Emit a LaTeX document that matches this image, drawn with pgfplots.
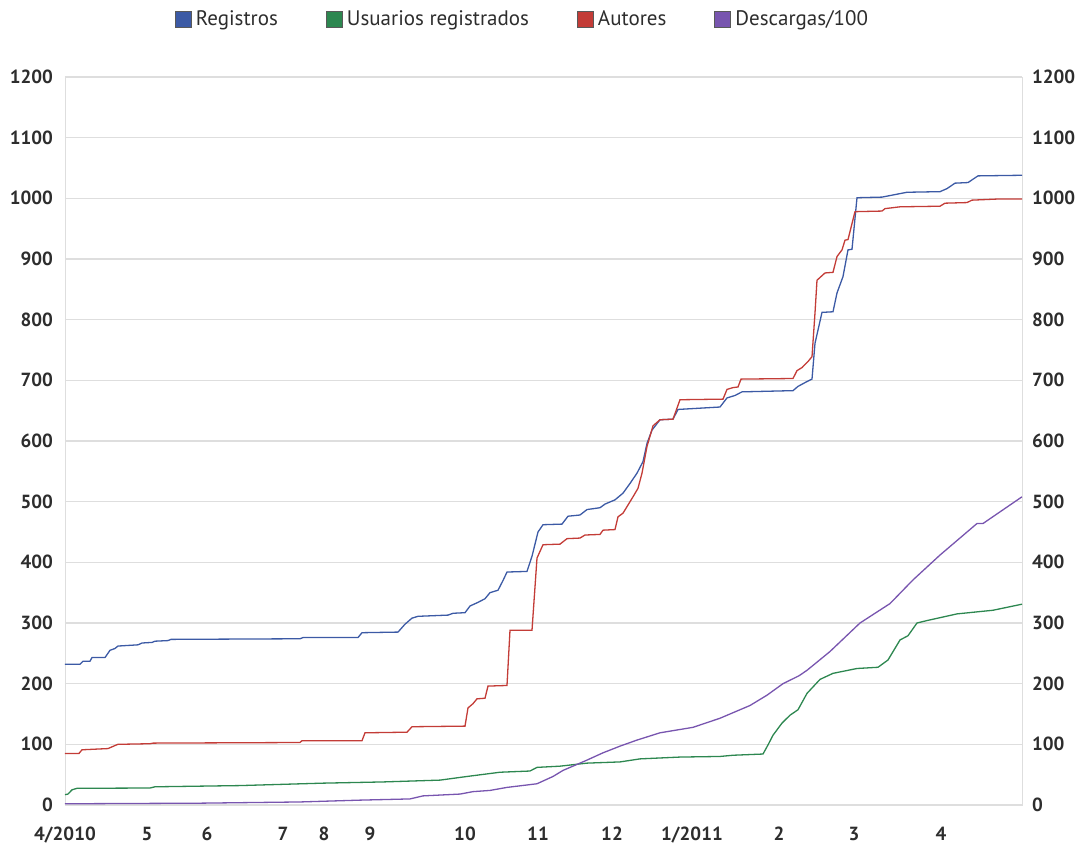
\documentclass[border=0pt]{standalone}
\usepackage{fontspec}
\setmainfont{PT Sans}
\usepackage{pgfplots}
\pgfplotsset{compat=1.18}

\definecolor{creg}{RGB}{60,90,165}
\definecolor{cusu}{RGB}{45,135,80}
\definecolor{caut}{RGB}{195,60,55}
\definecolor{cdes}{RGB}{120,85,175}
\definecolor{cgrid}{RGB}{222,222,222}
\definecolor{ctxt}{RGB}{45,45,45}

% x = horizontal position of the point (the axis is not linear in time)
\pgfplotstableread{
x v
0 232
15 232
18 237
25 237
27 243
40 243
45 255
50 258
53 262
73 264
77 267
87 268
90 270
103 271
106 273
235 274
238 276
293 276
297 284
333 285
340 298
347 308
353 311
383 313
388 316
400 317
405 328
413 334
420 340
425 350
433 354
438 370
442 384
462 385
467 410
473 450
478 462
497 463
503 476
515 478
522 487
535 490
540 496
550 503
558 514
565 530
572 547
578 566
582 596
587 618
595 635
608 636
613 652
655 656
662 671
670 675
677 681
728 683
733 690
742 698
747 702
750 761
757 812
768 813
772 844
778 871
783 915
787 916
792 1001
817 1002
842 1010
875 1011
882 1016
890 1025
903 1026
913 1037
957 1038
}\registros

\pgfplotstableread{
x v
0 85
14 85
17 91
43 93
50 98
53 100
85 101
88 102
235 103
237 106
297 106
300 119
342 120
347 129
400 130
403 160
408 167
412 175
420 176
423 196
442 197
445 288
467 288
472 407
478 429
495 430
502 439
515 440
520 445
535 446
538 453
550 454
553 475
558 481
568 508
573 522
577 547
582 591
588 625
595 635
608 636
615 668
658 669
662 685
668 688
673 689
676 702
728 703
732 716
737 721
743 731
747 739
750 811
752 865
760 877
768 878
772 904
777 915
780 931
783 932
790 978
817 979
820 983
835 986
875 987
880 992
902 993
907 997
935 999
957 999
}\autores

\pgfplotstableread{
x v
0 17
3 18
7 25
12 27.5
85 28
90 30
175 32
258 36
318 38
375 41
402 47
435 54
465 56
472 62
495 64
522 69
555 71
575 76
615 79
655 80
668 82
698 84
703 99
708 115
717 135
725 148
733 157
742 184
755 207
768 217
792 225
813 227
823 239
835 272
843 279
852 300
862 304
892 315
928 321
957 331
}\usuarios

\pgfplotstableread{
x v
0 2
135 3
235 5
295 8
345 10
358 15
395 18
408 22
425 24
442 29
472 35
488 47
498 57
522 74
538 86
555 97
572 107
595 119
628 128
655 143
685 164
702 181
718 200
734 213
742 222
765 253
795 300
825 332
848 371
875 412
912 464
918 464
957 508
}\descargas

\begin{document}
\begin{tikzpicture}
\useasboundingbox (-32.5pt,-20.5pt) rectangle (506.5pt,402.5pt);
\pgfplotsset{
  base/.style={
    scale only axis,
    width=478.5pt, height=364pt,
    at={(0,0)}, anchor=south west,
    xmin=0, xmax=957, ymin=0, ymax=1200,
    ytick={0,100,...,1200},
    major tick length=0pt,
    tick label style={font=\bfseries\fontsize{9.5}{11}\selectfont, text=ctxt},
    /pgf/number format/assume math mode=true,
    /pgf/number format/1000 sep={},
  },
}
\begin{axis}[
    base,
    axis line style={cgrid},
    ymajorgrids,
    grid style={cgrid, line width=0.6pt},
    xtick={0,82,142,218,259,305,400,473,547,627,714,789,876},
    xticklabels={4/2010,5,6,7,8,9,10,11,12,1/2011,2,3,4},
    xticklabel style={inner sep=0pt, yshift=-11pt},
    yticklabel style={xshift=-2.5pt},
    legend columns=4,
    legend style={at={(0.479,1)}, anchor=south, yshift=20pt, draw=none,
      fill=none, font=\fontsize{10.5}{12}\selectfont, text=ctxt,
      /tikz/every even column/.append style={column sep=22pt}},
    legend image code/.code={
      \draw[#1, draw=black!65, fill, line width=0.5pt] (0pt,-4pt) rectangle (8pt,4pt);},
    every axis plot/.append style={line width=0.65pt},
]
\addplot[creg] table[x=x, y=v] {\registros};
\addlegendentry{Registros}
\addplot[cusu] table[x=x, y=v] {\usuarios};
\addlegendentry{Usuarios registrados}
\addplot[caut] table[x=x, y=v] {\autores};
\addlegendentry{Autores}
\addplot[cdes] table[x=x, y=v] {\descargas};
\addlegendentry{Descargas/100}
\end{axis}
\begin{axis}[
    base,
    hide x axis,
    axis y line*=right,
    axis line style={draw=none},
    yticklabel pos=right,
    yticklabel style={xshift=1.5pt},
]
\end{axis}
\end{tikzpicture}
\end{document}
